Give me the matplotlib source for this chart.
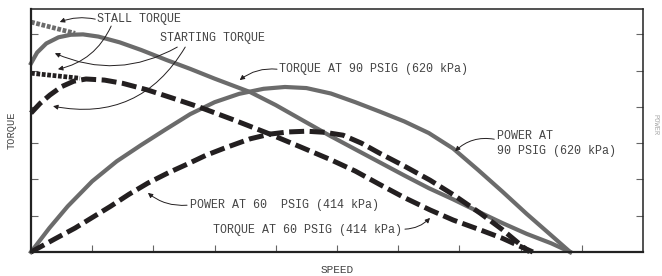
import matplotlib.pyplot as plt

plt.rcParams['font.family'] = ['Liberation Mono', 'DejaVu Sans Mono']

# curves (speed, torque/power units)
torque90_x = [0.0, 0.1, 0.25, 0.45, 0.65, 0.85, 1.1, 1.45, 1.8, 2.22, 2.6, 3.0, 3.58, 4.0, 4.45, 4.89, 5.3, 5.7, 6.1, 6.5, 6.9, 7.3, 7.7, 8.1, 8.5, 8.81]
torque90_y = [5.20, 5.50, 5.75, 5.92, 5.99, 6.00, 5.94, 5.78, 5.57, 5.29, 5.05, 4.78, 4.41, 4.05, 3.62, 3.20, 2.83, 2.47, 2.11, 1.76, 1.45, 1.12, 0.80, 0.50, 0.24, 0.0]

stall90_x = [0.0, 0.72]
stall90_y = [6.34, 6.03]

power90_x = [0.0, 0.3, 0.6, 1.0, 1.4, 1.8, 2.2, 2.6, 3.0, 3.4, 3.8, 4.15, 4.5, 4.9, 5.3, 5.7, 6.1, 6.5, 6.9, 7.3, 7.7, 8.1, 8.5, 8.81]
power90_y = [0.0, 0.66, 1.26, 1.95, 2.50, 2.95, 3.38, 3.80, 4.13, 4.36, 4.50, 4.55, 4.52, 4.37, 4.13, 3.87, 3.60, 3.28, 2.85, 2.27, 1.67, 1.05, 0.46, 0.0]

torque60_x = [0.0, 0.15, 0.31, 0.5, 0.7, 0.9, 1.2, 1.5, 1.9, 2.3, 2.76, 3.3, 3.86, 4.4, 4.89, 5.3, 5.7, 6.1, 6.52, 6.9, 7.34, 7.7, 8.0, 8.2]
torque60_y = [3.83, 4.10, 4.33, 4.56, 4.71, 4.77, 4.74, 4.65, 4.47, 4.25, 3.99, 3.65, 3.28, 2.90, 2.55, 2.23, 1.86, 1.50, 1.16, 0.88, 0.61, 0.38, 0.15, 0.0]

stall60_x = [0.0, 0.80]
stall60_y = [4.93, 4.79]

power60_x = [0.0, 0.4, 0.72, 1.0, 1.3, 1.6, 1.91, 2.25, 2.55, 2.85, 3.17, 3.58, 3.9, 4.2, 4.5, 4.8, 5.1, 5.4, 5.7, 6.1, 6.52, 6.9, 7.34, 7.7, 8.04, 8.15]
power60_y = [0.0, 0.37, 0.66, 0.95, 1.26, 1.59, 1.90, 2.19, 2.42, 2.66, 2.87, 3.12, 3.25, 3.31, 3.33, 3.30, 3.22, 3.00, 2.72, 2.37, 1.98, 1.58, 1.07, 0.62, 0.14, 0.0]

GRAY = '#6b6b6b'
BLACK = '#231f20'
TXT = '#444444'

fig = plt.figure(figsize=(6.62, 2.76), dpi=100)
ax = fig.add_axes([31/662, 1-252/276, 612/662, 243/276])

ax.plot(stall90_x, stall90_y, color=GRAY, lw=3.4, ls=(0, (0.8, 0.35)))
ax.plot(torque90_x, torque90_y, color=GRAY, lw=3.0, solid_joinstyle='round', clip_on=False)
ax.plot(power90_x, power90_y, color=GRAY, lw=3.0, solid_joinstyle='round', clip_on=False)
ax.plot(stall60_x, stall60_y, color=BLACK, lw=3.4, ls=(0, (0.8, 0.35)))
ax.plot(torque60_x, torque60_y, color=BLACK, lw=3.6, ls=(0, (3.0, 1.1)), clip_on=False)
ax.plot(power60_x, power60_y, color=BLACK, lw=3.6, ls=(0, (3.0, 1.1)), clip_on=False)

ax.set_xlim(0, 10)
ax.set_ylim(0, 6.7)
ax.set_xticks(range(1, 10))
ax.set_yticks(range(1, 7))
ax.set_xticklabels([])
ax.set_yticklabels([])
ax.tick_params(direction='in', length=5, width=0.8, color='#666', right=True)
for s in ['left', 'bottom']:
    ax.spines[s].set_linewidth(1.6)
    ax.spines[s].set_color('#222')
for s in ['top', 'right']:
    ax.spines[s].set_linewidth(1.1)
    ax.spines[s].set_color('#222')

ax.set_xlabel('SPEED', fontsize=8, color=TXT, labelpad=6)
ax.set_ylabel('TORQUE', fontsize=7.5, color=TXT, labelpad=7)
fig.text(655/662, 1-125/276, 'POWER', rotation=270, fontsize=5, color='#aaa', ha='center', va='center')

fs = 8.4
arrow = dict(arrowstyle='-|>', color=BLACK, lw=0.7, mutation_scale=7, shrinkA=0, shrinkB=0)

ax.text(1.08, 6.42, 'STALL TORQUE', fontsize=fs, color=TXT, va='center')
ax.annotate('', xy=(0.47, 6.34), xytext=(1.05, 6.42), arrowprops=dict(arrow, connectionstyle='arc3,rad=0.15'))
ax.annotate('', xy=(0.44, 5.04), xytext=(1.31, 6.23), arrowprops=dict(arrow, connectionstyle='arc3,rad=-0.25'))

ax.text(2.11, 5.90, 'STARTING TORQUE', fontsize=fs, color=TXT, va='center')
ax.annotate('', xy=(0.39, 5.48), xytext=(2.39, 5.65), arrowprops=dict(arrow, connectionstyle='arc3,rad=-0.25'))
ax.annotate('', xy=(0.36, 4.02), xytext=(2.52, 5.65), arrowprops=dict(arrow, connectionstyle='arc3,rad=-0.35'))

ax.text(4.05, 5.04, 'TORQUE AT 90 PSIG (620 kPa)', fontsize=fs, color=TXT, va='center')
ax.annotate('', xy=(3.41, 4.74), xytext=(4.02, 5.04), arrowprops=dict(arrow, connectionstyle='arc3,rad=0.2'))

ax.text(7.61, 2.98, 'POWER AT\n90 PSIG (620 kPa)', fontsize=fs, color=TXT, va='center', linespacing=1.35)
ax.annotate('', xy=(6.93, 2.78), xytext=(7.57, 3.11), arrowprops=dict(arrow, connectionstyle='arc3,rad=0.25'))

ax.text(2.60, 1.29, 'POWER AT 60  PSIG (414 kPa)', fontsize=fs, color=TXT, va='center')
ax.annotate('', xy=(1.91, 1.63), xytext=(2.55, 1.29), arrowprops=dict(arrow, connectionstyle='arc3,rad=-0.2'))

ax.text(2.97, 0.61, 'TORQUE AT 60 PSIG (414 kPa)', fontsize=fs, color=TXT, va='center')
ax.annotate('', xy=(6.52, 0.94), xytext=(6.11, 0.63), arrowprops=dict(arrow, connectionstyle='arc3,rad=0.2'))

fig.savefig('out.png', dpi=100)
